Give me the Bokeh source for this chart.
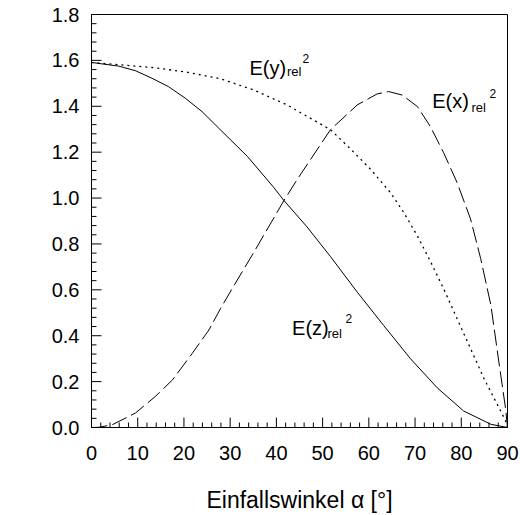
from bokeh.plotting import figure
from bokeh.models import Label, SingleIntervalTicker, PrintfTickFormatter, Range1d
from bokeh.embed import file_html
from bokeh.resources import INLINE
from math import pi

# angle of incidence (degrees) and relative squared field strengths
ez_angle = [0, 5.9, 9.5, 13.1, 16.7, 20.3, 23.9, 27.5, 33.7, 39.4, 41.6, 46.6, 51.7,
            57.5, 63.2, 69.0, 74.8, 80.5, 86.4, 90]
ez_value = [1.591, 1.575, 1.555, 1.522, 1.485, 1.435, 1.377, 1.305, 1.182, 1.047, 0.99,
            0.875, 0.745, 0.59, 0.445, 0.30, 0.173, 0.072, 0.014, 0.0]

ey_angle = [0, 13.1, 20.3, 27.9, 35.1, 42.3, 51.7, 56.0, 60.4, 64.7, 67.6, 70.5, 73.3,
            76.2, 79.1, 82.0, 84.9, 87.8, 89.6, 90]
ey_value = [1.591, 1.569, 1.55, 1.52, 1.471, 1.406, 1.298, 1.215, 1.125, 1.023, 0.936,
            0.835, 0.725, 0.604, 0.474, 0.344, 0.214, 0.10, 0.029, 0.0]

ex_angle = [0, 1.6, 4.5, 9.5, 13.8, 17.5, 21.8, 25.4, 27.9, 30.4, 35.1, 41.6, 44.5, 51.7,
            57.5, 61.8, 64.3, 67.2, 70.5, 73.3, 76.2, 79.1, 82.0, 84.2, 86.4, 88.1, 89.6, 90]
ex_value = [0.0, 0.001, 0.012, 0.063, 0.135, 0.207, 0.323, 0.425, 0.518, 0.604, 0.763,
            0.988, 1.081, 1.298, 1.406, 1.454, 1.464, 1.449, 1.399, 1.312, 1.197, 1.067,
            0.909, 0.736, 0.534, 0.29, 0.08, 0.0]

# axis tick positions
x_major = [0, 10, 20, 30, 40, 50, 60, 70, 80, 90]
y_major = [0.0, 0.2, 0.4, 0.6, 0.8, 1.0, 1.2, 1.4, 1.6, 1.8]
x_minor = [v + d for v in x_major[:-1] for d in (2, 4, 6, 8)]
y_minor = [round(v + d, 3) for v in y_major[:-1] for d in (0.04, 0.08, 0.12, 0.16)]

FONT = "Liberation Sans"
X0, X1, Y0, Y1 = 0, 90, 0, 1.8
FRAME_PX = 416  # frame is 416 px square
MAJ_PX, MIN_PX = 10, 5

p = figure(width=520, height=515, x_range=Range1d(X0, X1), y_range=Range1d(Y0, Y1),
           output_backend="svg", toolbar_location=None,
           min_border_left=91, min_border_right=13, min_border_top=14, min_border_bottom=85)
p.grid.visible = False
p.outline_line_color = "black"
p.outline_line_width = 1
p.background_fill_color = "white"
p.border_fill_color = "white"

p.xaxis.ticker = SingleIntervalTicker(interval=10, num_minor_ticks=0)
p.yaxis.ticker = SingleIntervalTicker(interval=0.2, num_minor_ticks=0)
p.yaxis.formatter = PrintfTickFormatter(format="%.1f")
for ax in (p.xaxis, p.yaxis):
    ax.major_tick_in = 0
    ax.major_tick_out = 0
    ax.minor_tick_in = 0
    ax.minor_tick_out = 0
    ax.axis_line_color = "black"
    ax.major_label_text_font = FONT
    ax.major_label_text_font_size = "20px"
    ax.major_label_text_color = "black"
p.xaxis.major_label_standoff = 18
p.yaxis.major_label_standoff = 12

p.xaxis.axis_label = "Einfallswinkel α [°]"
p.xaxis.axis_label_text_font = FONT
p.xaxis.axis_label_text_font_size = "23px"
p.xaxis.axis_label_text_font_style = "normal"
p.xaxis.axis_label_text_color = "black"
p.xaxis.axis_label_standoff = 24

# inward ticks (pixel lengths converted to data units)
ylen = lambda px: px * (Y1 - Y0) / FRAME_PX
xlen = lambda px: px * (X1 - X0) / FRAME_PX
TICK = dict(line_color="black", line_width=1)
p.segment(x0=x_major, y0=[Y0] * len(x_major), x1=x_major,
          y1=[Y0 + ylen(MAJ_PX)] * len(x_major), **TICK)
p.segment(x0=x_minor, y0=[Y0] * len(x_minor), x1=x_minor,
          y1=[Y0 + ylen(MIN_PX)] * len(x_minor), **TICK)
p.segment(x0=[X0] * len(y_major), y0=y_major, x1=[X0 + xlen(MAJ_PX)] * len(y_major),
          y1=y_major, **TICK)
p.segment(x0=[X0] * len(y_minor), y0=y_minor, x1=[X0 + xlen(MIN_PX)] * len(y_minor),
          y1=y_minor, **TICK)

p.line(ez_angle, ez_value, line_color="black", line_width=1)
p.line(ey_angle, ey_value, line_color="black", line_width=1.3, line_dash="2 4")
p.line(ex_angle, ex_value, line_color="black", line_width=1, line_dash="16 5")

p.add_layout(Label(x=-15.36, y=0.995, text="Summe der rel. Feldstärkenquadrate",
                   angle=pi / 2, text_align="center", text_baseline="middle",
                   text_font=FONT, text_font_size="22px", text_color="black"))

labels = [
    ("E(y)", 34.18, 1.569, "20px"), ("rel", 42.3, 1.551, "13px"), ("2", 45.65, 1.61, "12px"),
    ("E(x)", 73.7, 1.425, "20px"), ("rel", 82.2, 1.393, "13px"), ("2", 86.1, 1.457, "12px"),
    ("E(z)", 43.4, 0.433, "20px"), ("rel", 51.06, 0.411, "13px"), ("2", 54.95, 0.476, "12px"),
]
for t, x, y, fs in labels:
    p.add_layout(Label(x=x, y=y, text=t, text_align="left", text_baseline="alphabetic",
                       text_font=FONT, text_font_size=fs, text_color="black"))

open("out.html", "w").write(file_html(p, INLINE))
